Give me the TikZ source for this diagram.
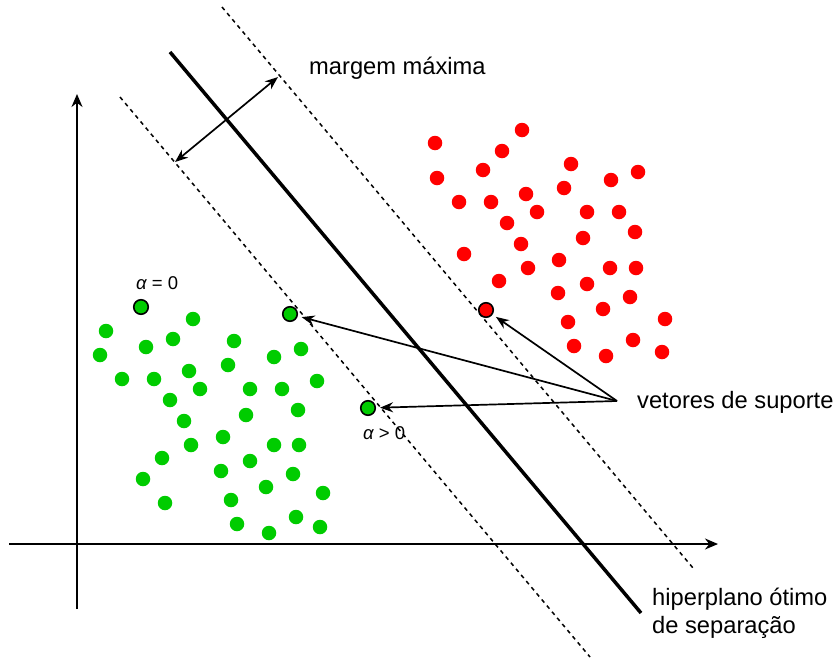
\documentclass[tikz,border=0pt]{standalone}
\usepackage{fontspec}
\setmainfont{Liberation Sans}
\usetikzlibrary{arrows.meta, positioning}

\definecolor{svmgreen}{RGB}{0,204,0}
\definecolor{svmred}{RGB}{255,0,0}

\begin{document}
\begin{tikzpicture}[
    x=1pt, y=-1pt,
    font=\fontsize{23.7}{28}\selectfont,
    axis/.style={line width=1.9pt, -{Stealth[length=13pt, width=11pt]}},
    marginline/.style={line width=1.5pt, dash pattern=on 4pt off 4pt},
    hyperplane/.style={line width=3.5pt},
    arrow/.style={line width=1.7pt, -{Stealth[length=13pt, width=10pt]}},
    gdot/.style={circle, fill=svmgreen, inner sep=0pt, minimum size=14.5pt},
    rdot/.style={circle, fill=svmred, inner sep=0pt, minimum size=14.5pt},
    svdot/.style={draw=black, line width=1.6pt},
    label/.style={anchor=base west, inner sep=0pt},
    alphalabel/.style={anchor=base west, inner sep=0pt, font=\fontsize{18.5}{22}\selectfont}
  ]
  \useasboundingbox (0,0) rectangle (837,664);

  % axes
  \coordinate (xstart) at (9,544);
  \coordinate (xend) at (718,544);
  \coordinate (ystart) at (77,609);
  \coordinate (yend) at (77,94);
  \draw[axis] (xstart) -- (xend);
  \draw[axis] (ystart) -- (yend);

  % hyperplane and margins
  \coordinate (h1) at (170,52);
  \coordinate (h2) at (641,613);
  \coordinate (u1) at (222,7);
  \coordinate (u2) at (693,568);
  \coordinate (l1) at (120,97);
  \coordinate (l2) at (590,657);
  \draw[marginline] (u1) -- (u2);
  \draw[marginline] (l1) -- (l2);
  \draw[hyperplane] (h1) -- (h2);

  % green class
  \foreach \x/\y [count=\i] in {193/319, 106/331, 146/347, 173/339, 234/341, 100/355,
      228/365, 274/357, 301/349, 189/371, 122/379, 154/379, 200/389, 250/389, 282/389,
      317/381, 170/400, 246/415, 298/410, 184/421, 223/437, 191/445, 274/445, 299/445,
      162/458, 250/461, 221/471, 293/474, 143/479, 266/487, 323/493, 165/503, 231/500,
      237/524, 296/517, 320/527, 269/533}
    \node[gdot] (g\i) at (\x,\y) {};

  % red class
  \foreach \x/\y [count=\i] in {522/130, 435/143, 502/151, 571/164, 483/170, 437/178,
      638/172, 611/180, 526/194, 564/188, 459/202, 491/202, 537/212, 587/212, 619/212,
      507/223, 635/232, 583/238, 521/244, 464/254, 559/260, 528/268, 610/268, 636/268,
      499/281, 587/284, 558/293, 630/297, 603/309, 568/322, 665/319, 574/346, 633/340,
      606/356, 662/352}
    \node[rdot] (r\i) at (\x,\y) {};

  % support vectors and the other marked point
  \node[gdot, svdot] (gzero) at (141,307) {};
  \node[gdot, svdot] (gsv1) at (290,314) {};
  \node[gdot, svdot] (gsv2) at (368,408) {};
  \node[rdot, svdot] (rsv) at (486,310) {};

  \node[alphalabel] (azero) at (136,289) {\itshape α\upshape{} = 0};
  \node[alphalabel] (apos) at (363,439) {\itshape α\upshape{} > 0};

  % margin
  \coordinate (m1) at (175,162);
  \coordinate (m2) at (278,77);
  \draw[arrow, {Stealth[length=13pt, width=10pt]}-{Stealth[length=13pt, width=10pt]}] (m1) -- (m2);
  \node[label] (margem) at (309,74) {margem máxima};

  % support vector labels
  \coordinate (src) at (617,401);
  \draw[arrow, shorten >=4pt] (src) -- (gsv1);
  \draw[arrow, shorten >=4pt] (src) -- (gsv2);
  \draw[arrow, shorten >=4pt] (src) -- (rsv);
  \node[label] (suporte) at (637,408) {vetores de suporte};

  \node[label] (hip1) at (652,605) {hiperplano ótimo};
  \node[label] (hip2) at (652,633) {de separação};
\end{tikzpicture}
\end{document}
